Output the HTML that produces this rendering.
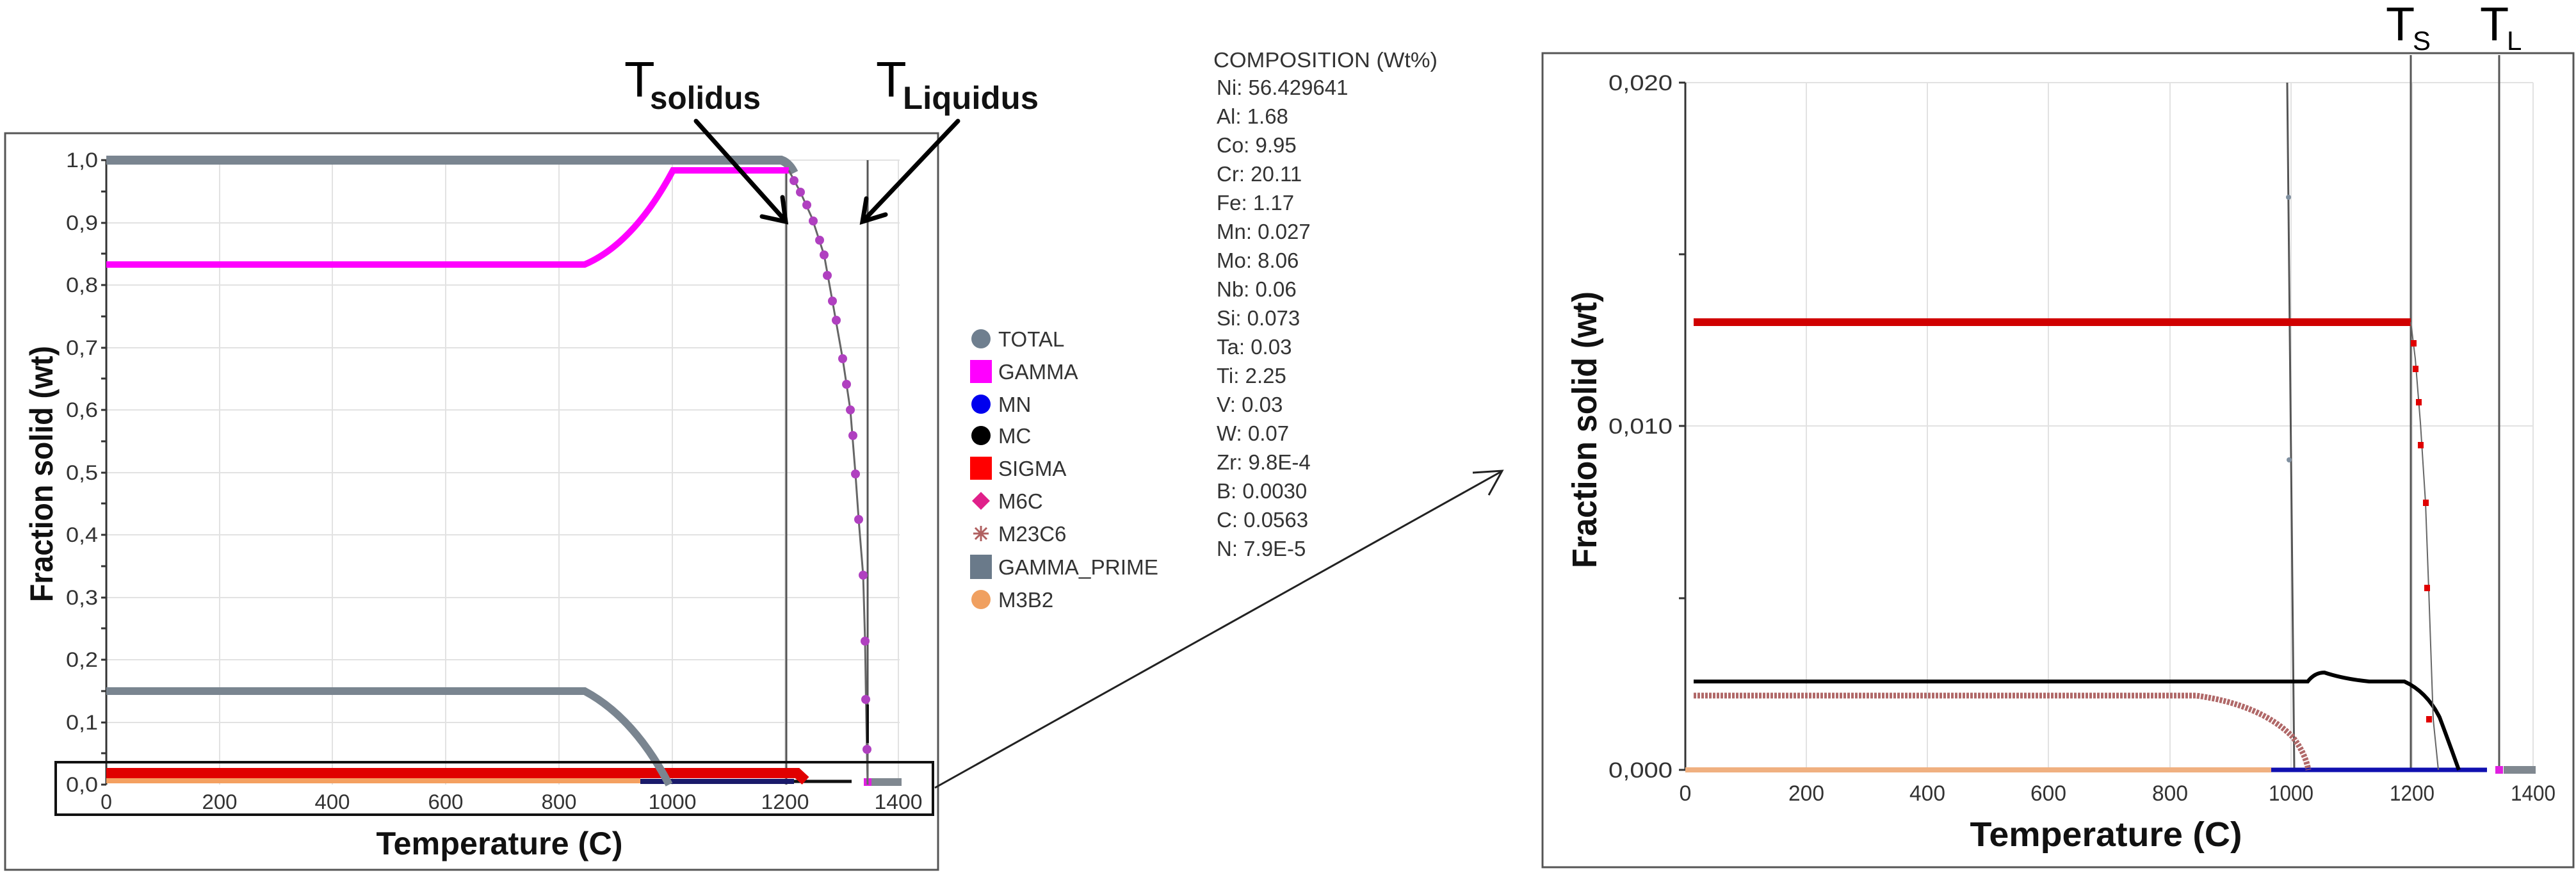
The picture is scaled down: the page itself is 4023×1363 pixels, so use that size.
<!DOCTYPE html>
<html><head><meta charset="utf-8"><style>
html,body{margin:0;padding:0;background:#fff;}
svg{display:block;}
text{font-family:"Liberation Sans",Arial,sans-serif;}
</style></head><body>
<svg width="4023" height="1363" viewBox="0 0 4023 1363" xmlns="http://www.w3.org/2000/svg">
<rect width="4023" height="1363" fill="#fff"/>
<!-- ================= LEFT CHART ================= -->
<rect x="8" y="208" width="1457" height="1150" fill="none" stroke="#555" stroke-width="3"/>
<g stroke="#e2e2e2" stroke-width="2">
<line x1="343" y1="250" x2="343" y2="1225"/><line x1="519" y1="250" x2="519" y2="1225"/>
<line x1="696" y1="250" x2="696" y2="1225"/><line x1="873" y1="250" x2="873" y2="1225"/>
<line x1="1050" y1="250" x2="1050" y2="1225"/><line x1="1226" y1="250" x2="1226" y2="1225"/>
<line x1="1403" y1="250" x2="1403" y2="1225"/>
<line x1="166" y1="250" x2="1405" y2="250"/><line x1="166" y1="348" x2="1405" y2="348"/>
<line x1="166" y1="445" x2="1405" y2="445"/><line x1="166" y1="543" x2="1405" y2="543"/>
<line x1="166" y1="640" x2="1405" y2="640"/><line x1="166" y1="738" x2="1405" y2="738"/>
<line x1="166" y1="835" x2="1405" y2="835"/><line x1="166" y1="933" x2="1405" y2="933"/>
<line x1="166" y1="1030" x2="1405" y2="1030"/><line x1="166" y1="1128" x2="1405" y2="1128"/>
</g>
<line x1="166" y1="250" x2="166" y2="1225" stroke="#333" stroke-width="3"/>
<g stroke="#333" stroke-width="3">
<line x1="158" y1="250" x2="166" y2="250"/><line x1="158" y1="299" x2="166" y2="299"/><line x1="158" y1="348" x2="166" y2="348"/><line x1="158" y1="396" x2="166" y2="396"/><line x1="158" y1="445" x2="166" y2="445"/><line x1="158" y1="494" x2="166" y2="494"/><line x1="158" y1="543" x2="166" y2="543"/><line x1="158" y1="591" x2="166" y2="591"/><line x1="158" y1="640" x2="166" y2="640"/><line x1="158" y1="689" x2="166" y2="689"/><line x1="158" y1="738" x2="166" y2="738"/><line x1="158" y1="786" x2="166" y2="786"/><line x1="158" y1="835" x2="166" y2="835"/><line x1="158" y1="884" x2="166" y2="884"/><line x1="158" y1="933" x2="166" y2="933"/><line x1="158" y1="981" x2="166" y2="981"/><line x1="158" y1="1030" x2="166" y2="1030"/><line x1="158" y1="1079" x2="166" y2="1079"/><line x1="158" y1="1128" x2="166" y2="1128"/><line x1="158" y1="1176" x2="166" y2="1176"/><line x1="158" y1="1225" x2="166" y2="1225"/>
</g>
<g font-size="32" fill="#333" text-anchor="end">
<text x="153" y="261" textLength="50" lengthAdjust="spacingAndGlyphs">1,0</text>
<text x="153" y="359" textLength="50" lengthAdjust="spacingAndGlyphs">0,9</text>
<text x="153" y="456" textLength="50" lengthAdjust="spacingAndGlyphs">0,8</text>
<text x="153" y="554" textLength="50" lengthAdjust="spacingAndGlyphs">0,7</text>
<text x="153" y="651" textLength="50" lengthAdjust="spacingAndGlyphs">0,6</text>
<text x="153" y="749" textLength="50" lengthAdjust="spacingAndGlyphs">0,5</text>
<text x="153" y="846" textLength="50" lengthAdjust="spacingAndGlyphs">0,4</text>
<text x="153" y="944" textLength="50" lengthAdjust="spacingAndGlyphs">0,3</text>
<text x="153" y="1041" textLength="50" lengthAdjust="spacingAndGlyphs">0,2</text>
<text x="153" y="1139" textLength="50" lengthAdjust="spacingAndGlyphs">0,1</text>
<text x="153" y="1236" textLength="50" lengthAdjust="spacingAndGlyphs">0,0</text>
</g>
<g font-size="32" fill="#333" text-anchor="middle">
<text x="166" y="1263">0</text>
<text x="343" y="1263" textLength="55" lengthAdjust="spacingAndGlyphs">200</text>
<text x="519" y="1263" textLength="55" lengthAdjust="spacingAndGlyphs">400</text>
<text x="696" y="1263" textLength="55" lengthAdjust="spacingAndGlyphs">600</text>
<text x="873" y="1263" textLength="55" lengthAdjust="spacingAndGlyphs">800</text>
<text x="1050" y="1263" textLength="75" lengthAdjust="spacingAndGlyphs">1000</text>
<text x="1226" y="1263" textLength="75" lengthAdjust="spacingAndGlyphs">1200</text>
<text x="1403" y="1263" textLength="75" lengthAdjust="spacingAndGlyphs">1400</text>
</g>
<text x="780" y="1334" font-size="50" font-weight="bold" text-anchor="middle" fill="#111" textLength="385" lengthAdjust="spacingAndGlyphs">Temperature (C)</text>
<text transform="translate(82,740) rotate(-90)" font-size="50" font-weight="bold" text-anchor="middle" fill="#111" textLength="400" lengthAdjust="spacingAndGlyphs">Fraction solid (wt)</text>
<line x1="1228" y1="262" x2="1228" y2="1225" stroke="#555" stroke-width="3"/>
<line x1="1355" y1="250" x2="1355" y2="1225" stroke="#555" stroke-width="3"/>
<line x1="166" y1="1218" x2="1000" y2="1218" stroke="#f4a060" stroke-width="10"/>
<line x1="1000" y1="1220" x2="1240" y2="1220" stroke="#1a1a6a" stroke-width="8"/>
<line x1="1240" y1="1220" x2="1330" y2="1220" stroke="#111" stroke-width="5"/>
<path d="M166,1207 L1245,1207 L1258,1219" fill="none" stroke="#e00000" stroke-width="16"/>
<line x1="1355" y1="1221" x2="1408" y2="1221" stroke="#808890" stroke-width="12"/>
<rect x="1349" y="1215" width="12" height="12" fill="#e020e0"/>
<path d="M166,1079 L913,1079 Q990,1120 1045,1225" fill="none" stroke="#7a8590" stroke-width="12"/>
<path d="M166,250 L1220,250 Q1232,254 1240,270" fill="none" stroke="#7a8590" stroke-width="14"/>
<path d="M166,413 L913,413 Q990,380 1051,266 L1232,266" fill="none" stroke="#ff00ff" stroke-width="10"/>
<polyline points="1232,266 1250,300 1268,340 1287,398 1300,470 1316,560 1328,640 1336,740 1341,811 1348,898 1351,1001 1353,1128 1355,1225" fill="none" stroke="#666" stroke-width="3"/>
<g fill="#b040c0">
<circle cx="1240" cy="282" r="7"/><circle cx="1250" cy="300" r="7"/><circle cx="1260" cy="320" r="7"/><circle cx="1270" cy="345" r="7"/><circle cx="1280" cy="375" r="7"/><circle cx="1287" cy="398" r="7"/><circle cx="1292" cy="430" r="7"/><circle cx="1300" cy="470" r="7"/><circle cx="1306" cy="500" r="7"/><circle cx="1316" cy="560" r="7"/><circle cx="1322" cy="600" r="7"/><circle cx="1328" cy="640" r="7"/><circle cx="1332" cy="680" r="7"/><circle cx="1336" cy="740" r="7"/><circle cx="1341" cy="811" r="7"/><circle cx="1348" cy="898" r="7"/><circle cx="1351" cy="1001" r="7"/><circle cx="1352" cy="1092" r="7"/><circle cx="1354" cy="1170" r="7"/>
</g>
<line x1="1355" y1="1100" x2="1355" y2="1160" stroke="#111" stroke-width="4"/>
<rect x="87" y="1190" width="1370" height="82" fill="none" stroke="#111" stroke-width="4"/>
<text x="975" y="151" font-size="78" fill="#000">T</text>
<text x="1015" y="170" font-size="50" font-weight="bold" fill="#111" textLength="173" lengthAdjust="spacingAndGlyphs">solidus</text>
<text x="1368" y="151" font-size="78" fill="#000">T</text>
<text x="1410" y="170" font-size="50" font-weight="bold" fill="#111" textLength="212" lengthAdjust="spacingAndGlyphs">Liquidus</text>
<g stroke="#000" stroke-width="7" fill="none" stroke-linecap="round">
<line x1="1087" y1="189" x2="1225" y2="343"/>
<polyline points="1190,338 1227,346 1222,308"/>
<line x1="1496" y1="189" x2="1350" y2="343"/>
<polyline points="1383,335 1347,346 1353,310"/>
</g>
<g font-size="33" fill="#333">
<circle cx="1532" cy="529" r="15" fill="#6f7f8f"/><text x="1559" y="541">TOTAL</text>
<rect x="1515" y="562" width="34" height="36" fill="#ff00ff"/><text x="1559" y="592">GAMMA</text>
<circle cx="1532" cy="631" r="15" fill="#0000ee"/><text x="1559" y="643">MN</text>
<circle cx="1532" cy="680" r="15" fill="#000"/><text x="1559" y="692">MC</text>
<rect x="1515" y="713" width="34" height="36" fill="#ff0000"/><text x="1559" y="743">SIGMA</text>
<path d="M1532,768 L1546,782 L1532,796 L1518,782 Z" fill="#e0208a"/><text x="1559" y="794">M6C</text>
<g stroke="#b06060" stroke-width="3"><line x1="1520" y1="833" x2="1544" y2="833"/><line x1="1532" y1="821" x2="1532" y2="845"/><line x1="1523" y1="824" x2="1541" y2="842"/><line x1="1541" y1="824" x2="1523" y2="842"/></g><text x="1559" y="845">M23C6</text>
<rect x="1515" y="866" width="34" height="38" fill="#6a7a8a"/><text x="1559" y="897" textLength="250" lengthAdjust="spacingAndGlyphs">GAMMA_PRIME</text>
<circle cx="1532" cy="936" r="15" fill="#f0a060"/><text x="1559" y="948">M3B2</text>
</g>
<g font-size="33" fill="#333">
<text x="1895" y="105" textLength="350" lengthAdjust="spacingAndGlyphs">COMPOSITION (Wt%)</text>
<text x="1900" y="148">Ni: 56.429641</text>
<text x="1900" y="193">Al: 1.68</text>
<text x="1900" y="238">Co: 9.95</text>
<text x="1900" y="283">Cr: 20.11</text>
<text x="1900" y="328">Fe: 1.17</text>
<text x="1900" y="373">Mn: 0.027</text>
<text x="1900" y="418">Mo: 8.06</text>
<text x="1900" y="463">Nb: 0.06</text>
<text x="1900" y="508">Si: 0.073</text>
<text x="1900" y="553">Ta: 0.03</text>
<text x="1900" y="598">Ti: 2.25</text>
<text x="1900" y="643">V: 0.03</text>
<text x="1900" y="688">W: 0.07</text>
<text x="1900" y="733">Zr: 9.8E-4</text>
<text x="1900" y="778">B: 0.0030</text>
<text x="1900" y="823">C: 0.0563</text>
<text x="1900" y="868">N: 7.9E-5</text>
</g>
<g stroke="#222" stroke-width="3" fill="none">
<line x1="1460" y1="1230" x2="2345" y2="736"/>
<polyline points="2300,738 2346,735 2325,773"/>
</g>
<!-- ================= RIGHT CHART ================= -->
<rect x="2409" y="83" width="1610" height="1271" fill="none" stroke="#555" stroke-width="3"/>
<g stroke="#e2e2e2" stroke-width="2">
<line x1="2821" y1="129" x2="2821" y2="1202"/><line x1="3010" y1="129" x2="3010" y2="1202"/>
<line x1="3199" y1="129" x2="3199" y2="1202"/><line x1="3389" y1="129" x2="3389" y2="1202"/>
<line x1="3578" y1="129" x2="3578" y2="1202"/><line x1="3767" y1="129" x2="3767" y2="1202"/>
<line x1="3956" y1="129" x2="3956" y2="1202"/>
<line x1="2632" y1="129" x2="3956" y2="129"/><line x1="2632" y1="665" x2="3956" y2="665"/>
</g>
<line x1="2632" y1="129" x2="2632" y2="1202" stroke="#333" stroke-width="3"/>
<g stroke="#333" stroke-width="3">
<line x1="2622" y1="129" x2="2632" y2="129"/><line x1="2622" y1="397" x2="2632" y2="397"/><line x1="2622" y1="665" x2="2632" y2="665"/><line x1="2622" y1="934" x2="2632" y2="934"/><line x1="2622" y1="1202" x2="2632" y2="1202"/>
</g>
<g font-size="34" fill="#333" text-anchor="end">
<text x="2612" y="141" textLength="100" lengthAdjust="spacingAndGlyphs">0,020</text>
<text x="2612" y="677" textLength="100" lengthAdjust="spacingAndGlyphs">0,010</text>
<text x="2612" y="1214" textLength="100" lengthAdjust="spacingAndGlyphs">0,000</text>
</g>
<g font-size="34" fill="#333" text-anchor="middle">
<text x="2632" y="1250">0</text>
<text x="2821" y="1250" textLength="56" lengthAdjust="spacingAndGlyphs">200</text>
<text x="3010" y="1250" textLength="56" lengthAdjust="spacingAndGlyphs">400</text>
<text x="3199" y="1250" textLength="56" lengthAdjust="spacingAndGlyphs">600</text>
<text x="3389" y="1250" textLength="56" lengthAdjust="spacingAndGlyphs">800</text>
<text x="3578" y="1250" textLength="70" lengthAdjust="spacingAndGlyphs">1000</text>
<text x="3767" y="1250" textLength="70" lengthAdjust="spacingAndGlyphs">1200</text>
<text x="3956" y="1250" textLength="70" lengthAdjust="spacingAndGlyphs">1400</text>
</g>
<text x="3289" y="1321" font-size="54" font-weight="bold" text-anchor="middle" fill="#111" textLength="425" lengthAdjust="spacingAndGlyphs">Temperature (C)</text>
<text transform="translate(2493,671) rotate(-90)" font-size="54" font-weight="bold" text-anchor="middle" fill="#111" textLength="432" lengthAdjust="spacingAndGlyphs">Fraction solid (wt)</text>
<line x1="3572" y1="129" x2="3583" y2="1202" stroke="#555" stroke-width="3"/>
<line x1="3765" y1="86" x2="3765" y2="1202" stroke="#555" stroke-width="3"/>
<line x1="3903" y1="86" x2="3903" y2="1202" stroke="#555" stroke-width="3"/>
<circle cx="3574" cy="308" r="4" fill="#8090a0"/><circle cx="3575" cy="718" r="4" fill="#8090a0"/>
<line x1="2632" y1="1202" x2="3547" y2="1202" stroke="#f0b080" stroke-width="8"/>
<line x1="3547" y1="1202" x2="3884" y2="1202" stroke="#1010b0" stroke-width="7"/>
<line x1="3910" y1="1202" x2="3960" y2="1202" stroke="#808890" stroke-width="12"/>
<rect x="3897" y="1196" width="12" height="12" fill="#e020e0"/>
<path d="M2645,1086 L3430,1086 Q3530,1100 3580,1150 Q3600,1175 3605,1202" fill="none" stroke="#b06868" stroke-width="9" stroke-dasharray="4,2"/>
<path d="M2645,1064 L3604,1064 Q3615,1050 3630,1050 Q3660,1060 3700,1064 L3755,1064 Q3790,1080 3810,1120 Q3825,1160 3840,1202" fill="none" stroke="#000" stroke-width="6"/>
<line x1="2645" y1="503" x2="3765" y2="503" stroke="#d00000" stroke-width="12"/>
<polyline points="3765,503 3772,560 3780,660 3788,785 3793,920 3800,1123 3808,1202" fill="none" stroke="#666" stroke-width="2"/>
<g fill="#e00000">
<rect x="3765" y="531" width="9" height="10"/><rect x="3768" y="571" width="9" height="10"/><rect x="3773" y="623" width="9" height="10"/><rect x="3776" y="690" width="9" height="10"/><rect x="3784" y="780" width="9" height="10"/><rect x="3786" y="913" width="9" height="10"/><rect x="3789" y="1118" width="9" height="10"/>
</g>
<text x="3726" y="63" font-size="74" fill="#000">T</text>
<text x="3768" y="78" font-size="42" fill="#000">S</text>
<text x="3873" y="63" font-size="74" fill="#000">T</text>
<text x="3915" y="78" font-size="42" fill="#000">L</text>
</svg>
</body></html>
